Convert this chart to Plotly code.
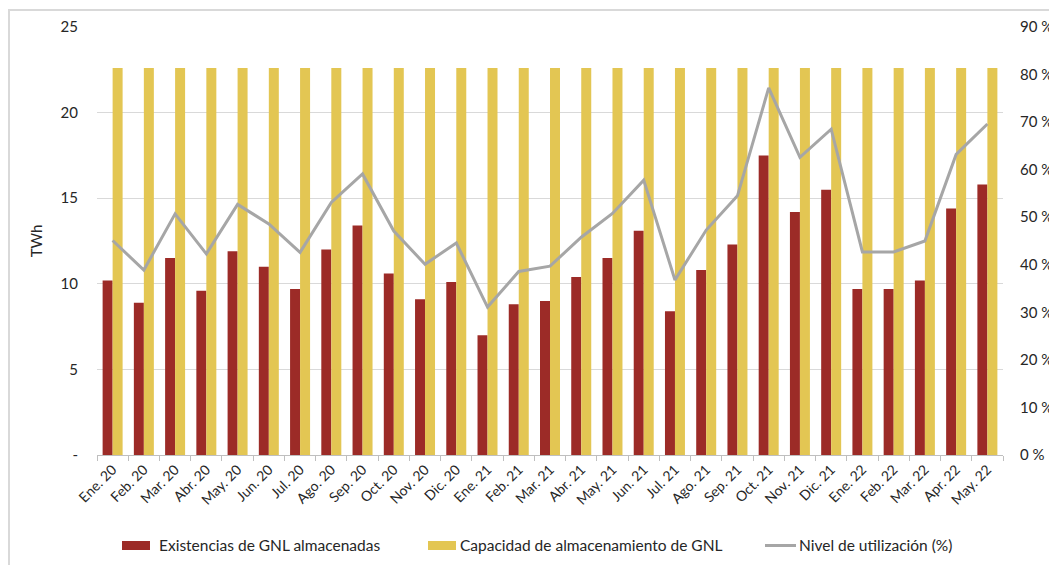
import plotly.graph_objects as go

# Months shown on the category axis
meses = [
    "Ene. 20", "Feb. 20", "Mar. 20", "Abr. 20", "May. 20", "Jun. 20",
    "Jul. 20", "Ago. 20", "Sep. 20", "Oct. 20", "Nov. 20", "Dic. 20",
    "Ene. 21", "Feb. 21", "Mar. 21", "Abr. 21", "May. 21", "Jun. 21",
    "Jul. 21", "Ago. 21", "Sep. 21", "Oct. 21", "Nov. 21", "Dic. 21",
    "Ene. 22", "Feb. 22", "Mar. 22", "Apr. 22", "May. 22",
]

# LNG stored (TWh)
existencias = [
    10.2, 8.9, 11.5, 9.6, 11.9, 11.0, 9.7, 12.0, 13.4, 10.6, 9.1, 10.1,
    7.0, 8.8, 9.0, 10.4, 11.5, 13.1, 8.4, 10.8, 12.3, 17.5, 14.2, 15.5,
    9.7, 9.7, 10.2, 14.4, 15.8,
]

# LNG storage capacity (TWh)
capacidad = [22.6] * 29

# Utilisation level (%)
utilizacion = [
    45.1, 38.9, 50.7, 42.3, 52.7, 48.6, 42.6, 53.1, 59.1, 47.1, 40.1, 44.6,
    31.1, 38.6, 39.7, 45.8, 50.8, 57.8, 36.8, 47.3, 54.5, 77.2, 62.6, 68.5,
    42.7, 42.7, 45.0, 63.2, 69.6,
]

# Axis ticks
twh_ticks = [0, 5, 10, 15, 20, 25]
twh_labels = ["-", "5", "10", "15", "20", "25"]
pct_ticks = [0, 10, 20, 30, 40, 50, 60, 70, 80, 90]
pct_labels = [f"{v} %" for v in pct_ticks]

nombres = [
    "Existencias de GNL almacenadas",
    "Capacidad de almacenamiento de GNL",
    "Nivel de utilización (%)",
]

ROJO = "#9C2B27"
AMARILLO = "#E3C653"
GRIS = "#A6A6A6"
TEXTO = "#262626"
FUENTE = "Lato"

W, H = 1049, 565
ML, MR, MT, MB = 97, 46, 27, 110
PW, PH = W - ML - MR, H - MT - MB


def px_x(p):
    return (p - ML) / PW


def px_y(p):
    return (H - MB - p) / PH


fig = go.Figure()
fig.add_trace(go.Bar(
    x=meses, y=existencias, name=nombres[0],
    marker=dict(color=ROJO, line=dict(width=0)), yaxis="y",
))
fig.add_trace(go.Bar(
    x=meses, y=capacidad, name=nombres[1],
    marker=dict(color=AMARILLO, line=dict(width=0)), yaxis="y",
))
fig.add_trace(go.Scatter(
    x=meses, y=utilizacion, name=nombres[2],
    mode="lines", line=dict(color=GRIS, width=3), yaxis="y2",
))

# Legend drawn beneath the axis: swatch shapes plus text labels
LEY_Y = 545
shapes = [
    dict(type="rect", xref="paper", yref="paper", layer="above",
         x0=px_x(9), x1=px_x(W + 20), y0=px_y(H + 20), y1=px_y(10),
         line=dict(color="#D9D9D9", width=2), fillcolor="rgba(0,0,0,0)"),
    dict(type="rect", xref="paper", yref="paper",
         x0=px_x(122), x1=px_x(150), y0=px_y(LEY_Y + 5), y1=px_y(LEY_Y - 4),
         line=dict(width=0), fillcolor=ROJO),
    dict(type="rect", xref="paper", yref="paper",
         x0=px_x(428), x1=px_x(456), y0=px_y(LEY_Y + 5), y1=px_y(LEY_Y - 4),
         line=dict(width=0), fillcolor=AMARILLO),
    dict(type="line", xref="paper", yref="paper",
         x0=px_x(765), x1=px_x(796), y0=px_y(LEY_Y + 0.5), y1=px_y(LEY_Y + 0.5),
         line=dict(color=GRIS, width=3)),
]
annotations = [
    dict(text=t, xref="paper", yref="paper", x=px_x(x), y=px_y(LEY_Y),
         xanchor="left", yanchor="middle", showarrow=False,
         font=dict(size=15.5, color=TEXTO))
    for t, x in zip(nombres, [157, 458, 797])
]

fig.update_layout(
    width=W, height=H,
    margin=dict(l=ML, r=MR, t=MT, b=MB, autoexpand=False),
    paper_bgcolor="white", plot_bgcolor="white",
    font=dict(family=FUENTE, size=15, color=TEXTO),
    barmode="group", bargap=0.36, bargroupgap=0,
    showlegend=False,
    xaxis=dict(
        type="category", tickangle=-45, showgrid=False,
        showline=True, linecolor="#BFBFBF", linewidth=1,
        ticks="outside", tickson="boundaries", ticklen=5,
        tickcolor="#BFBFBF", tickfont=dict(size=14, color=TEXTO),
        range=[-0.5, len(meses) - 0.5],
    ),
    yaxis=dict(
        range=[0, 25], tickvals=twh_ticks, ticktext=twh_labels,
        showgrid=True, gridcolor="#D9D9D9", gridwidth=1,
        zeroline=False, showline=False, ticks="",
        tickfont=dict(size=15, color=TEXTO), ticklabelstandoff=18,
        title=dict(text="TWh", font=dict(size=15, color=TEXTO), standoff=14),
    ),
    yaxis2=dict(
        range=[0, 90], tickvals=pct_ticks, ticktext=pct_labels,
        overlaying="y", side="right", showgrid=False, zeroline=False,
        showline=False, ticks="", tickfont=dict(size=15, color=TEXTO),
        ticklabelstandoff=16,
    ),
    shapes=shapes,
    annotations=annotations,
)

fig.write_html("out.html")
